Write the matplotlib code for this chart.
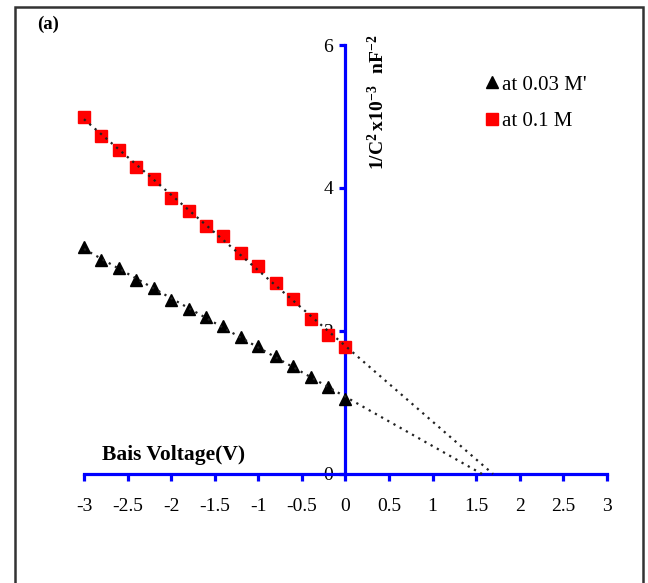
import numpy as np
import matplotlib
matplotlib.use("Agg")
import matplotlib.pyplot as plt
from matplotlib.patches import Rectangle

plt.rcParams['font.family'] = ['Liberation Serif', 'DejaVu Serif']
plt.rcParams['mathtext.fontset'] = 'custom'
plt.rcParams['mathtext.rm'] = 'Liberation Serif'
plt.rcParams['mathtext.bf'] = 'Liberation Serif:bold'

# bias voltage (V)
voltage = [-3.0, -2.8, -2.6, -2.4, -2.2, -2.0, -1.8, -1.6,
           -1.4, -1.2, -1.0, -0.8, -0.6, -0.4, -0.2, 0.0]
# 1/C^2 x10^-3 (nF^-2)
conc_003 = [3.17, 2.99, 2.88, 2.71, 2.60, 2.43, 2.31, 2.19,
            2.07, 1.91, 1.79, 1.65, 1.51, 1.35, 1.21, 1.05]
conc_01 = [4.99, 4.73, 4.53, 4.29, 4.13, 3.86, 3.68, 3.47,
           3.33, 3.09, 2.91, 2.67, 2.45, 2.17, 1.94, 1.78]

xticks = [-3, -2.5, -2, -1.5, -1, -0.5, 0, 0.5, 1, 1.5, 2, 2.5, 3]
xticklabels = ['-3', '-2.5', '-2', '-1.5', '-1', '-0.5', '0', '0.5', '1', '1.5', '2', '2.5', '3']
yticks = [0, 2, 4, 6]

blue = '#0000ff'

fig = plt.figure(figsize=(6.48, 5.83), dpi=100)
ax = fig.add_axes([0.1296, 0.187, 0.807, 0.7358])

# outer frame
fig.patches.append(Rectangle((15 / 648, -0.02), 628 / 648, 1.02 - 7 / 583,
                             transform=fig.transFigure, fill=False,
                             edgecolor='#333333', linewidth=1.8))

x = np.array(voltage)
for vals, mk, col, sz, lab in [(conc_003, '^', 'black', 8.5, "at 0.03 M'"),
                               (conc_01, 's', 'red', 8, 'at 0.1 M')]:
    y = np.array(vals)
    ax.plot(x, y, linestyle='none', marker=mk, color=col, markersize=sz,
            label=lab, clip_on=False, zorder=3)
    # linear trend line extended down to the voltage axis
    k, b = np.polyfit(x, y, 1)
    xr = np.array([x.min(), -b / k])
    ax.plot(xr, k * xr + b, color='#222222', linestyle=(0, (1, 2.2)),
            linewidth=1.6, zorder=4, clip_on=False)

ax.set_xlim(-3, 3)
ax.set_ylim(0, 6)

for s in ['top', 'right']:
    ax.spines[s].set_visible(False)
ax.spines['left'].set_position(('data', 0))
for s in ['left', 'bottom']:
    ax.spines[s].set_color(blue)
    ax.spines[s].set_linewidth(2.3)

ax.set_xticks(xticks)
ax.set_xticklabels(xticklabels)
ax.set_yticks(yticks)
ax.tick_params(axis='x', direction='out', length=5, width=2.3, color=blue,
               labelsize=14, pad=12)
ax.tick_params(axis='y', direction='out', length=4, width=2.3, color=blue,
               labelsize=14, pad=5)

ax.text(-2.79, 0.27, 'Bais Voltage(V)', fontsize=15.5, fontweight='bold',
        ha='left', va='center')
ax.text(0.37, 5.2, r'$\mathbf{1/C^{2}\,x10^{-3}\ \ nF^{-2}}$', fontsize=14,
        rotation=90, ha='center', va='center')
fig.text(0.074, 0.958, '(a)', fontsize=13.5, fontweight='bold', ha='center', va='center')

ax.legend(loc='upper left', bbox_to_anchor=(0.733, 0.889),
          bbox_transform=fig.transFigure, frameon=False, fontsize=15,
          handlelength=0.6, handletextpad=0.2, labelspacing=0.8, borderpad=0)

fig.savefig('out.png', dpi=100)
